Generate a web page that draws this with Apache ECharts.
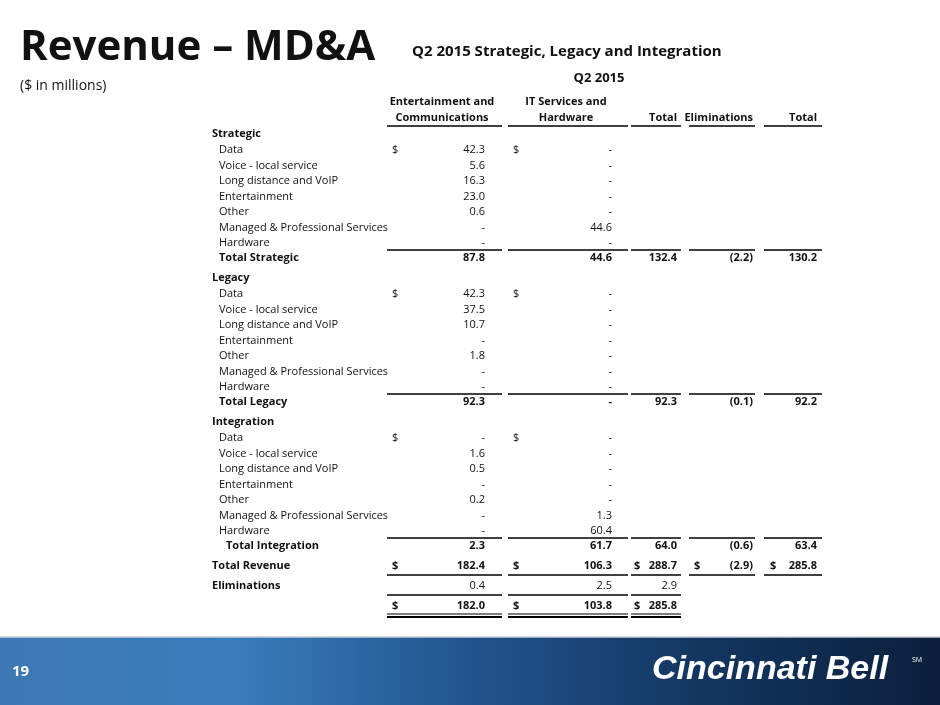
<!DOCTYPE html>
<html><head><meta charset="utf-8">
<script src="https://cdn.jsdelivr.net/npm/echarts@6/dist/echarts.min.js"></script>
<style>html,body{margin:0;padding:0;background:#fff}#c{width:940px;height:705px}</style>
</head><body><div id="c"></div>
<script>
const items = ["Data","Voice - local service","Long distance and VoIP","Entertainment","Other","Managed & Professional Services","Hardware"];
const sections = ["Strategic","Legacy","Integration"];
const ecStrategic = [42.3,5.6,16.3,23.0,0.6,null,null];
const itStrategic = [null,null,null,null,null,44.6,null];
const ecLegacy = [42.3,37.5,10.7,null,1.8,null,null];
const itLegacy = [null,null,null,null,null,null,null];
const ecIntegration = [null,1.6,0.5,null,0.2,null,null];
const itIntegration = [null,null,null,null,null,1.3,60.4];
// section totals: [E&C, IT, Total, Eliminations, Total]
const totStrategic = [87.8,44.6,132.4,-2.2,130.2];
const totLegacy = [92.3,null,92.3,-0.1,92.2];
const totIntegration = [2.3,61.7,64.0,-0.6,63.4];
const totRevenue = [182.4,106.3,288.7,-2.9,285.8];
const eliminations = [0.4,2.5,2.9];
const netRevenue = [182.0,103.8,285.8];

const F = '"Open Sans","Noto Sans",sans-serif';
const B = 'bold 11px '+F;
const fmt = v => v === null ? '-' : (v < 0 ? '(' + (-v).toFixed(1) + ')' : v.toFixed(1));
const colR = [485,612,677,753,817];
const colL = [387,508,631,689,764];
const colE = [502,628,681,755,822];
const els = [];
function t(x,y,s,o){els.push({type:'text',x:x,y:y,style:Object.assign({text:s,font:'11px '+F,fill:'#111',textVerticalAlign:'middle'},o||{})});}
function ln(c,y,w){els.push({type:'line',shape:{x1:colL[c],y1:y,x2:colE[c],y2:y},style:{stroke:'#000',lineWidth:w||1.3}});}
// title
t(20,48,'Revenue – MD&A',{font:'bold 42px '+F,fill:'#111'});
t(412,52,'Q2 2015 Strategic, Legacy and Integration',{font:'bold 15px '+F,fill:'#111'});
t(20,86,'($ in millions)',{font:'14px '+F});
t(599,78,'Q2 2015',{font:'bold 13px '+F,textAlign:'center'});
t(442,102,'Entertainment and',{textAlign:'center',font:B});t(442,118,'Communications',{textAlign:'center',font:B});
t(566,102,'IT Services and',{textAlign:'center',font:B});t(566,118,'Hardware',{textAlign:'center',font:B});
t(677,118,'Total',{textAlign:'right',font:B});
t(753,118,'Eliminations',{textAlign:'right',font:B});
t(817,118,'Total',{textAlign:'right',font:B});
for(let c=0;c<5;c++) ln(c,126,1.6);
const ecs=[ecStrategic,ecLegacy,ecIntegration], its=[itStrategic,itLegacy,itIntegration], tots=[totStrategic,totLegacy,totIntegration];
const starts=[134,278,422];
sections.forEach((s,si)=>{
  let y=starts[si];
  t(212,y,s,{font:B});
  items.forEach((it,i)=>{
    const yy=y+16+i*15.5;
    t(219,yy,it);
    if(i===0){t(392,yy,'$');t(513,yy,'$');}
    t(colR[0],yy,fmt(ecs[si][i]),{textAlign:'right'});
    t(colR[1],yy,fmt(its[si][i]),{textAlign:'right'});
  });
  const ly=y+116, ty=y+124;
  for(let c=0;c<5;c++) ln(c,ly);
  t(si===2?226:219,ty,'Total '+s,{font:B});
  tots[si].forEach((v,c)=>t(colR[c],ty,fmt(v),{textAlign:'right',font:B}));
});
t(212,566,'Total Revenue',{font:B});
[392,513,634,694,770].forEach(x=>t(x,566,'$',{font:B}));
totRevenue.forEach((v,c)=>t(colR[c],566,fmt(v),{textAlign:'right',font:B}));
for(let c=0;c<5;c++) ln(c,575);
t(212,586,'Eliminations',{font:B});
eliminations.forEach((v,c)=>t(colR[c],586,fmt(v),{textAlign:'right'}));
for(let c=0;c<3;c++) ln(c,595);
[392,513,634].forEach(x=>t(x,606,'$',{font:B}));
netRevenue.forEach((v,c)=>t(colR[c],606,fmt(v),{textAlign:'right',font:B}));
for(let c=0;c<3;c++){ln(c,614,1.2);ln(c,617,1.8);}
// footer
els.push({type:'rect',shape:{x:0,y:637,width:940,height:68},style:{fill:new echarts.graphic.LinearGradient(0,0,1,0,[{offset:0,color:'#3d78b4'},{offset:0.25,color:'#3a7cbd'},{offset:0.5,color:'#21548c'},{offset:0.75,color:'#123660'},{offset:1,color:'#0b1f3b'}])}});
els.push({type:'line',shape:{x1:0,y1:637,x2:940,y2:637},style:{stroke:'#c8cdd4',lineWidth:1.5}});
t(12,672,'19',{font:'bold 15px '+F,fill:'#fff'});
t(652,670,'Cincinnati Bell',{font:'italic bold 34px "Liberation Sans",sans-serif',fill:'#fff'});
t(912,660,'SM',{font:'7px '+F,fill:'#fff'});
const chart=echarts.init(document.getElementById('c'));
chart.setOption({animation:false,graphic:{elements:els}});
</script></body></html>
